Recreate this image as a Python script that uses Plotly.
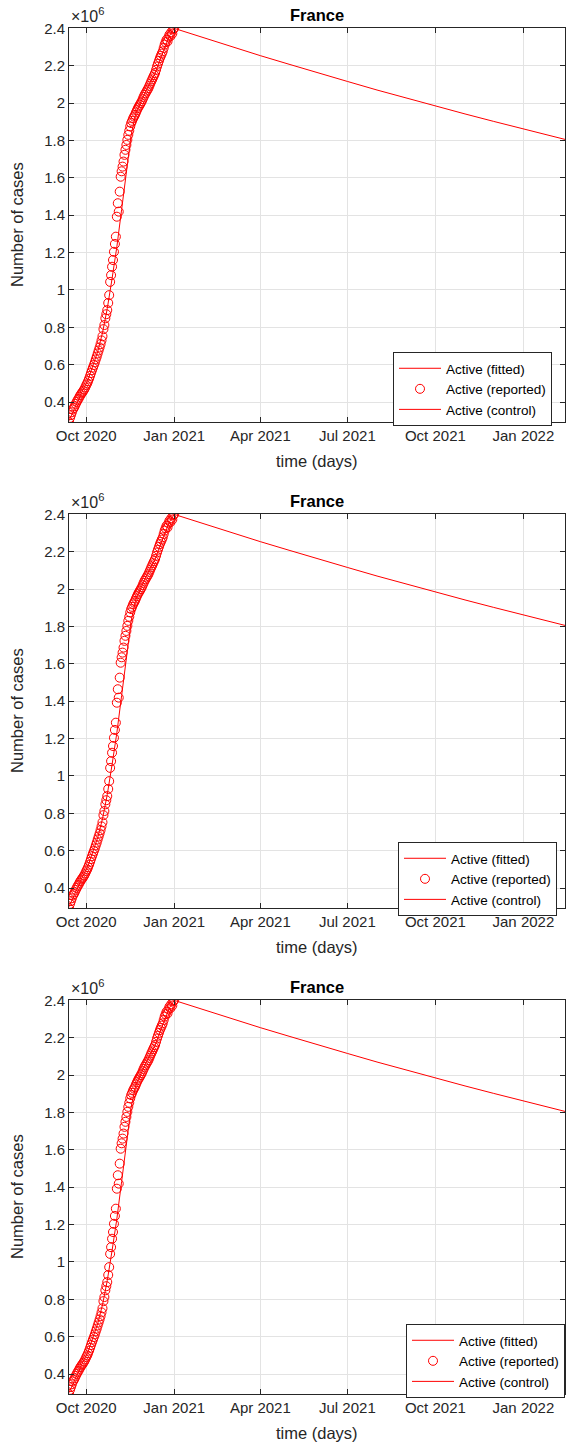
import plotly.graph_objects as go
import pandas as pd

# ---------------- data ----------------
start_date = "2020-09-13"
reported = [
    0.293, 0.315, 0.330, 0.345, 0.360, 0.368, 0.378, 0.390, 0.400, 0.410,
    0.418, 0.428, 0.437, 0.445, 0.452, 0.460, 0.468, 0.478, 0.490, 0.500,
    0.512, 0.525, 0.540, 0.555, 0.570, 0.584, 0.598, 0.612, 0.628, 0.643,
    0.660, 0.676, 0.692, 0.710, 0.730, 0.752, 0.790, 0.812, 0.848, 0.870,
    0.892, 0.930, 0.972, 1.043, 1.079, 1.124, 1.160, 1.204, 1.246, 1.285,
    1.392, 1.464, 1.419, 1.526, 1.606, 1.635, 1.660, 1.687, 1.723, 1.750,
    1.776, 1.803, 1.830, 1.852, 1.875, 1.893, 1.905, 1.918, 1.928, 1.937,
    1.950, 1.962, 1.973, 1.982, 1.991, 2.000, 2.009, 2.021, 2.033, 2.044,
    2.053, 2.062, 2.071, 2.080, 2.092, 2.104, 2.116, 2.127, 2.139, 2.150,
    2.161, 2.178, 2.196, 2.211, 2.226, 2.241, 2.253, 2.265, 2.277, 2.295,
    2.313, 2.326, 2.339, 2.330, 2.352, 2.366, 2.358, 2.380, 2.372, 2.395,
    2.402,
]  # millions of active cases, one per day

fitted_dates = ["2020-09-13", "2020-09-18", "2020-09-23", "2020-09-28", "2020-10-03",
                "2020-10-08", "2020-10-13", "2020-10-18", "2020-10-23", "2020-10-28",
                "2020-11-02", "2020-11-07", "2020-11-12", "2020-11-17", "2020-11-22",
                "2020-11-27", "2020-12-02", "2020-12-07", "2020-12-12", "2020-12-17",
                "2020-12-22", "2020-12-27", "2021-01-01"]
fitted = [0.300, 0.360, 0.420, 0.470, 0.520, 0.590, 0.670, 0.770, 0.900, 1.060,
          1.230, 1.430, 1.640, 1.830, 1.950, 2.010, 2.060, 2.110, 2.160, 2.230,
          2.300, 2.360, 2.400]

control_dates = ["2021-01-01", "2021-02-01", "2021-03-01", "2021-04-01", "2021-05-01",
                 "2021-06-01", "2021-07-01", "2021-08-01", "2021-09-01", "2021-10-01",
                 "2021-11-01", "2021-12-01", "2022-01-01", "2022-02-01", "2022-02-14"]
control = [2.400, 2.349, 2.303, 2.254, 2.208, 2.160, 2.116, 2.070, 2.026, 1.984,
           1.942, 1.902, 1.861, 1.821, 1.805]

x_tick_vals = ["2020-10-01", "2021-01-01", "2021-04-01", "2021-07-01", "2021-10-01", "2022-01-01"]
x_tick_text = ["Oct 2020", "Jan 2021", "Apr 2021", "Jul 2021", "Oct 2021", "Jan 2022"]
y_tick_vals = [0.4, 0.6, 0.8, 1.0, 1.2, 1.4, 1.6, 1.8, 2.0, 2.2, 2.4]
y_tick_text = ["0.4", "0.6", "0.8", "1", "1.2", "1.4", "1.6", "1.8", "2", "2.2", "2.4"]
x_range = ["2020-09-13", "2022-02-13 12:00"]
y_range = [0.293, 2.402]
title_text = "France"
legend_names = ["Active (fitted)", "Active (reported)", "Active (control)"]

# ---------------- layout geometry ----------------
W, H = 566, 1443
FONT = "Liberation Sans, Arial, Helvetica, sans-serif"
AX = "#262626"
GRID = "#e3e3e3"
RED = "#ff0000"
LEFT, RIGHT = 69, 565
panel_tops = [28, 514, 1000]
panel_h = 394
legend_boxes = [(552, 352), (557, 842), (565, 1324)]  # right, top in px

rep_dates = list(pd.date_range(start_date, periods=len(reported), freq="D"))
M = 1e6

fig = go.Figure()
annotations = []
layout_axes = {}

def py(p):
    return 1 - p / H

for i, top in enumerate(panel_tops):
    n = "" if i == 0 else str(i + 1)
    xa, ya = "x" + n, "y" + n
    lg = "legend" if i == 0 else "legend" + str(i + 1)
    bottom = top + panel_h
    fig.add_trace(go.Scatter(x=fitted_dates, y=[v * M for v in fitted], mode="lines",
                             line=dict(color=RED, width=1), name=legend_names[0],
                             xaxis=xa, yaxis=ya, legend=lg))
    fig.add_trace(go.Scatter(x=rep_dates, y=[v * M for v in reported], mode="markers",
                             marker=dict(symbol="circle-open", size=9, color=RED,
                                         line=dict(width=1, color=RED)),
                             name=legend_names[1], xaxis=xa, yaxis=ya, legend=lg))
    fig.add_trace(go.Scatter(x=control_dates, y=[v * M for v in control], mode="lines",
                             line=dict(color=RED, width=1), name=legend_names[2],
                             xaxis=xa, yaxis=ya, legend=lg))
    layout_axes["xaxis" + n] = dict(
        domain=[LEFT / W, RIGHT / W], anchor=ya, range=x_range, type="date",
        automargin=False,
        tickvals=x_tick_vals, ticktext=x_tick_text, ticks="inside", ticklen=5,
        tickcolor=AX, showline=True, linecolor=AX, linewidth=1, mirror="ticks",
        showgrid=True, gridcolor=GRID, gridwidth=1, zeroline=False,
        tickfont=dict(family=FONT, size=15, color=AX))
    layout_axes["yaxis" + n] = dict(
        domain=[py(bottom), py(top)], anchor=xa, range=[y_range[0] * M, y_range[1] * M],
        automargin=False,
        tickvals=[v * M for v in y_tick_vals], ticktext=y_tick_text, ticks="inside",
        ticklen=5, tickcolor=AX, showline=True, linecolor=AX, linewidth=1, mirror="ticks",
        showgrid=True, gridcolor=GRID, gridwidth=1, zeroline=False,
        tickfont=dict(family=FONT, size=15, color=AX))
    r, t = legend_boxes[i]
    layout_axes[lg] = dict(x=r / W, xanchor="right", y=py(t), yanchor="top",
                           bgcolor="white", bordercolor=AX, borderwidth=1,
                           font=dict(family=FONT, size=13.5, color="black"),
                           tracegroupgap=0, itemwidth=42)
    annotations += [
        dict(text="<b>" + title_text + "</b>", x=(LEFT + RIGHT) / 2 / W, y=py(top - 13),
             xref="paper", yref="paper", showarrow=False, xanchor="center", yanchor="middle",
             font=dict(family=FONT, size=16.5, color="black")),
        dict(text="×10<sup>6</sup>", x=LEFT / W, y=py(top - 1), xref="paper", yref="paper",
             showarrow=False, xanchor="left", yanchor="bottom",
             font=dict(family=FONT, size=16, color=AX)),
        dict(text="Number of cases", x=17 / W, y=py(top + panel_h / 2), xref="paper",
             yref="paper", showarrow=False, xanchor="center", yanchor="middle",
             textangle=-90, font=dict(family=FONT, size=16.5, color=AX)),
        dict(text="time (days)", x=(LEFT + RIGHT) / 2 / W, y=py(bottom + 39), xref="paper",
             yref="paper", showarrow=False, xanchor="center", yanchor="middle",
             font=dict(family=FONT, size=16.5, color=AX)),
    ]

fig.update_layout(width=W, height=H, margin=dict(l=0, r=0, t=0, b=0, autoexpand=False),
                  paper_bgcolor="white", plot_bgcolor="white", showlegend=True,
                  annotations=annotations, **layout_axes)
fig.write_html("out.html")
